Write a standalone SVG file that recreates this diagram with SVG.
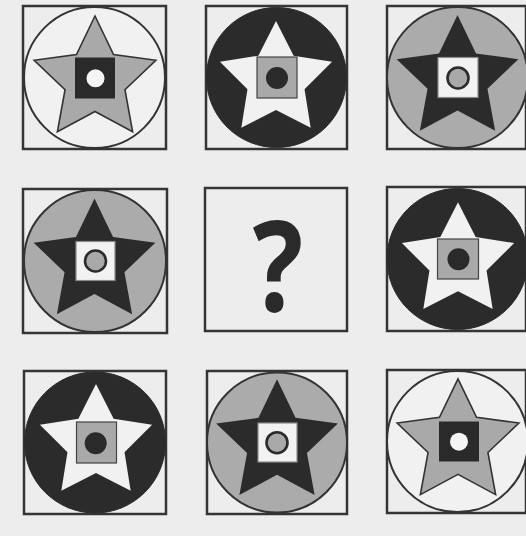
<svg xmlns="http://www.w3.org/2000/svg" xmlns:xlink="http://www.w3.org/1999/xlink" width="526" height="536" viewBox="0 0 526 536">
  <style>
    .frame { fill: none; stroke: #353535; stroke-width: 2.5; }
    .circA { fill: #f1f1f1; stroke: #333; stroke-width: 2; }
    .starA { fill: #a9a9a9; stroke: #333; stroke-width: 1.6; stroke-linejoin: miter; }
    .sqA { fill: #2a2a2a; }
    .dotA { fill: #f4f4f4; }
    .circB { fill: #2b2b2b; stroke: #2b2b2b; stroke-width: 1; }
    .starB { fill: #f1f1f1; }
    .sqB { fill: #a9a9a9; stroke: #444; stroke-width: 1.2; }
    .dotB { fill: #2a2a2a; }
    .circC { fill: #ababab; stroke: #333; stroke-width: 2; }
    .starC { fill: #2b2b2b; }
    .sqC { fill: #f2f2f2; stroke: #8a8a8a; stroke-width: 1.2; }
    .dotC { fill: #a9a9a9; stroke: #2b2b2b; stroke-width: 2.6; }
    .qm { font-family: "Open Sans", "DejaVu Sans", sans-serif; font-weight: 700; font-size: 126px; fill: #2a2a2a; }
  </style>
  <defs>
    <path id="bigStar" d="M0,-64 L18.52,-25.48 L60.87,-19.78 L29.96,9.73 L37.62,51.78 L0,31.5 L-37.62,51.78 L-29.96,9.73 L-60.87,-19.78 L-18.52,-25.48 Z"/>
    <path id="smallStar" d="M0,-59 L17.63,-24.27 L56.11,-18.23 L28.53,9.27 L34.68,47.73 L0,30 L-34.68,47.73 L-28.53,9.27 L-56.11,-18.23 L-17.63,-24.27 Z"/>
  </defs>
  <rect x="0" y="0" width="526" height="536" fill="#ededed"/>

  <g id="cell-r1c1">
    <rect class="frame" x="23" y="6" width="143" height="143"/>
    <circle class="circA" cx="94.5" cy="77.5" r="70.5"/>
    <use xlink:href="#bigStar" class="starA" transform="translate(95,80)"/>
    <rect class="sqA" x="75" y="57.5" width="40" height="41"/>
    <circle class="dotA" cx="95.5" cy="78.3" r="9"/>
  </g>

  <g id="cell-r1c2">
    <rect class="frame" x="206" y="6" width="141" height="143"/>
    <circle class="circB" cx="276.5" cy="77.5" r="70"/>
    <use xlink:href="#smallStar" class="starB" transform="translate(276,80)"/>
    <rect class="sqB" x="257" y="57" width="40" height="41"/>
    <circle class="dotB" cx="277" cy="78" r="11"/>
  </g>

  <g id="cell-r1c3">
    <rect class="frame" x="387" y="6" width="139" height="143"/>
    <circle class="circC" cx="457.5" cy="77.5" r="70.5"/>
    <use xlink:href="#bigStar" class="starC" transform="translate(457.5,79)"/>
    <rect class="sqC" x="438" y="57.5" width="40" height="40"/>
    <circle class="dotC" cx="458" cy="78" r="10.5"/>
  </g>

  <g id="cell-r2c1">
    <rect class="frame" x="23" y="189" width="144" height="144"/>
    <circle class="circC" cx="95" cy="261" r="71"/>
    <use xlink:href="#bigStar" class="starC" transform="translate(94.5,262.5)"/>
    <rect class="sqC" x="76" y="241.5" width="39" height="39"/>
    <circle class="dotC" cx="95.5" cy="261" r="10.5"/>
  </g>

  <g id="cell-r2c2">
    <rect class="frame" x="205" y="188" width="142" height="143"/>
    <text class="qm" x="0" y="0" text-anchor="middle" transform="translate(278,311) scale(0.84,1)">?</text>
  </g>

  <g id="cell-r2c3">
    <rect class="frame" x="387" y="187" width="139" height="144"/>
    <circle class="circB" cx="457.5" cy="259" r="70.5"/>
    <use xlink:href="#smallStar" class="starB" transform="translate(458,261.3)"/>
    <rect class="sqB" x="437.5" y="239" width="41" height="40"/>
    <circle class="dotB" cx="458.5" cy="259.3" r="11"/>
  </g>

  <g id="cell-r3c1">
    <rect class="frame" x="24" y="371" width="142" height="143"/>
    <circle class="circB" cx="95" cy="442.5" r="70.5"/>
    <use xlink:href="#smallStar" class="starB" transform="translate(96,443)"/>
    <rect class="sqB" x="76.5" y="422" width="40" height="41"/>
    <circle class="dotB" cx="95.7" cy="443.3" r="11"/>
  </g>

  <g id="cell-r3c2">
    <rect class="frame" x="207" y="371" width="140" height="143"/>
    <circle class="circC" cx="277" cy="442.5" r="70"/>
    <use xlink:href="#bigStar" class="starC" transform="translate(277,443.3)"/>
    <rect class="sqC" x="258" y="423" width="39" height="39"/>
    <circle class="dotC" cx="277" cy="442.7" r="10.5"/>
  </g>

  <g id="cell-r3c3">
    <rect class="frame" x="387" y="370" width="139" height="143"/>
    <circle class="circA" cx="457.5" cy="441.5" r="70.5"/>
    <use xlink:href="#bigStar" class="starA" transform="translate(458,442.8)"/>
    <rect class="sqA" x="439" y="421.5" width="40" height="40"/>
    <circle class="dotA" cx="459" cy="441.7" r="9"/>
  </g>

  <g id="connectors"/>
</svg>
